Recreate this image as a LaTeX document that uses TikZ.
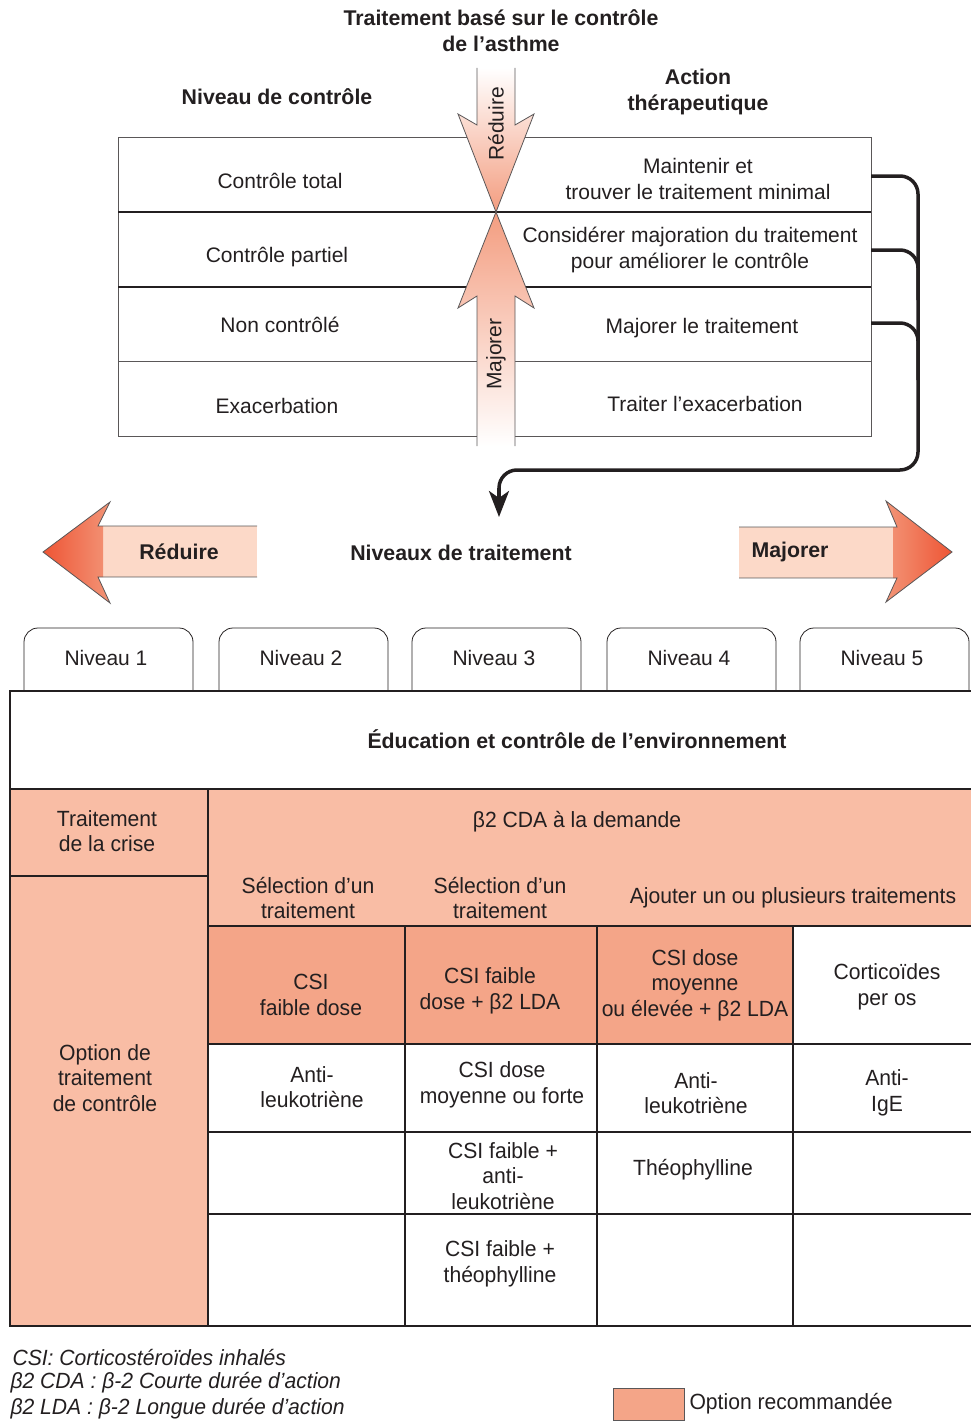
\documentclass[tikz,border=0pt]{standalone}
\usepackage{fontspec}
\setmainfont{Liberation Sans}
\newfontfamily\narrowfont[FakeStretch=0.96]{Liberation Sans}
\usetikzlibrary{arrows.meta}
\definecolor{saumon}{HTML}{F9BDA5}
\definecolor{saumonfonce}{HTML}{F4A588}
\definecolor{peche}{HTML}{FCD9C8}
\definecolor{rouge}{HTML}{EE5535}
\definecolor{trait}{HTML}{231F20}

\begin{document}
\begin{tikzpicture}[x=1pt, y=-1pt]
        \tikzstyle{titre} = [font=\fontsize{21.3}{26}\selectfont\bfseries, align=center, text=trait]
        \tikzstyle{texte} = [font=\fontsize{21}{26}\selectfont, align=center, text=trait]
        \tikzstyle{cellule} = [font=\narrowfont\fontsize{22}{25.5}\selectfont, align=center, text=trait]
        \tikzstyle{legende} = [font=\narrowfont\itshape\fontsize{22}{26}\selectfont, anchor=west, text=trait]
        \tikzstyle{fort} = [draw=trait, line width=1.2pt]
        \tikzstyle{fin} = [draw=trait!75, line width=0.8pt]
        \tikzstyle{retour} = [draw=trait, line width=3.5pt, rounded corners=18pt]
        \tikzstyle{onglet} = [draw=trait, line width=0.8pt, rounded corners=14pt]

\useasboundingbox (0,0) rectangle (971,1421);

% tableau du haut
        \draw[fin] (118,137) rectangle (871,436);
        \draw[fin] (118,361) -- (871,361);
        \draw[fort] (118,212) -- (871,212);
        \draw[fort] (118,287) -- (871,287);

\shade[top color=white, bottom color=saumonfonce!90!rouge] (477,68) -- (477,125) -- (458,114) -- (496,212) -- (534,114) -- (515,125) -- (515,68) -- cycle;
        \draw[fin] (477,68) -- (477,125) -- (458,114) -- (496,212) -- (534,114) -- (515,125) -- (515,68);
        \shade[top color=saumonfonce!90!rouge, bottom color=white] (477,446) -- (477,296) -- (458,308) -- (496,212) -- (534,308) -- (515,296) -- (515,446) -- cycle;
        \draw[fin] (477,446) -- (477,296) -- (458,308) -- (496,212) -- (534,308) -- (515,296) -- (515,446);

\node[titre] (titre) at (501,31) {Traitement basé sur le contrôle\\de l’asthme};
        \node[titre] (niveau) at (277,97) {Niveau de contrôle};
        \node[titre] (action) at (698,92) {Action\\thérapeutique};

\node[texte, rotate=90] (reduire) at (496,124) {Réduire};
        \node[texte, rotate=90] (majorer) at (496,354) {Majorer};

\node[texte] (ctrl1) at (280,181) {Contrôle total};
        \node[texte] (ctrl2) at (277,257) {Contrôle partiel};
        \node[texte] (ctrl3) at (280,325) {Non contrôlé};
        \node[texte] (ctrl4) at (277,406) {Exacerbation};
        \node[texte] (act1) at (698,179) {Maintenir et\\trouver le traitement minimal};
        \node[texte] (act2) at (690,250) {Considérer majoration du traitement\\pour améliorer le contrôle};
        \node[texte] (act3) at (702,328) {Majorer le traitement};
        \node[texte] (act4) at (705,404) {Traiter l’exacerbation};

\coordinate (sortie1) at (871,176);
        \coordinate (sortie2) at (871,250);
        \coordinate (sortie3) at (871,323);
        \coordinate (cible) at (499,517);

\draw[retour] (sortie1) -- (918,176) -- (918,470) -- (499,470) -- (499,500);
        \draw[retour] (sortie2) -- (918,250) -- (918,300);
        \draw[retour] (sortie3) -- (918,323) -- (918,380);
        \draw[draw=trait, line width=3.5pt, -{Stealth[length=26pt, width=20pt, inset=7pt]}] (499,488) -- (cible);

% grandes fleches
        \fill[peche] (103,526) rectangle (257,577);
        \shade[left color=rouge, right color=saumonfonce!80!rouge] (103,526) -- (98,526) -- (110,502) -- (43,552) -- (110,603) -- (98,577) -- (103,577) -- cycle;
        \draw[fin] (257,526) -- (98,526) -- (110,502) -- (43,552) -- (110,603) -- (98,577) -- (257,577);
        \fill[peche] (739,527) rectangle (893,578);
        \shade[left color=saumonfonce!80!rouge, right color=rouge] (893,527) -- (897,527) -- (886,501) -- (952,552) -- (886,602) -- (897,578) -- (893,578) -- cycle;
        \draw[fin] (739,527) -- (897,527) -- (886,501) -- (952,552) -- (886,602) -- (897,578) -- (739,578);

\node[titre] (gauche) at (179,552) {Réduire};
        \node[titre] (droite) at (790,552) {Majorer};
        \node[titre] (niveaux) at (461,553) {Niveaux de traitement};

% onglets
        \foreach \i/\x in {1/24, 2/219, 3/412, 4/607, 5/800} {
            \draw[onglet] (\x,691) -- (\x,628) -- (\x+169,628) -- (\x+169,691);
            \node[texte] (niv\i) at (\x+82,658) {Niveau \i};
        }

% tableau du bas
        \fill[saumon] (10,789) rectangle (971,926);
        \fill[saumon] (10,926) rectangle (208,1326);
        \fill[saumonfonce] (208,926) rectangle (793,1044);
        \draw[fort] (971,691) -- (10,691) -- (10,1326) -- (971,1326);
        \draw[fort] (10,789) -- (971,789);
        \draw[fort] (10,876) -- (208,876);
        \draw[fort] (208,789) -- (208,1326);
        \foreach \y in {926, 1044, 1132, 1214} {
            \draw[fort] (208,\y) -- (971,\y);
        }
        \foreach \x in {405, 597, 793} {
            \draw[fort] (\x,926) -- (\x,1326);
        }

\node[titre] (education) at (577,739) {Éducation et contrôle de l’environnement};
        \node[cellule] (crise) at (107,831) {Traitement\\de la crise};
        \node[cellule] (option) at (105,1078) {Option de\\traitement\\de contrôle};
        \node[cellule] (demande) at (577,822) {β2 CDA à la demande};
        \node[cellule] (selection1) at (308,898) {Sélection d’un\\traitement};
        \node[cellule] (selection2) at (500,898) {Sélection d’un\\traitement};
        \node[cellule] (ajouter) at (793,898) {Ajouter un ou plusieurs traitements};

\node[cellule] (csi1) at (311,995) {CSI\\faible dose};
        \node[cellule] (csi2) at (490,991) {CSI faible\\dose + β2 LDA};
        \node[cellule] (csi3) at (695,985) {CSI dose\\moyenne\\ou élevée + β2 LDA};
        \node[cellule] (cortico) at (887,987) {Corticoïdes\\per os};
        \node[cellule] (anti1) at (312,1087) {Anti-\\leukotriène};
        \node[cellule] (csi4) at (502,1085) {CSI dose\\moyenne ou forte};
        \node[cellule] (anti2) at (696,1093) {Anti-\\leukotriène};
        \node[cellule] (antiige) at (887,1093) {Anti-\\IgE};
        \node[cellule] (csi5) at (503,1176) {CSI faible +\\anti-\\leukotriène};
        \node[cellule] (theo1) at (693,1170) {Théophylline};
        \node[cellule] (csi6) at (500,1264) {CSI faible +\\théophylline};

% legende
        \node[legende] (leg1) at (9,1357) {CSI: Corticostéroïdes inhalés};
        \node[legende] (leg2) at (7,1383) {β2 CDA : β-2 Courte durée d’action};
        \node[legende] (leg3) at (7,1409) {β2 LDA : β-2 Longue durée d’action};
        \draw[fin, fill=saumonfonce] (613,1388) rectangle (684,1420);
        \node[cellule, anchor=west] (reco) at (686,1404) {Option recommandée};

\end{tikzpicture}
\end{document}
